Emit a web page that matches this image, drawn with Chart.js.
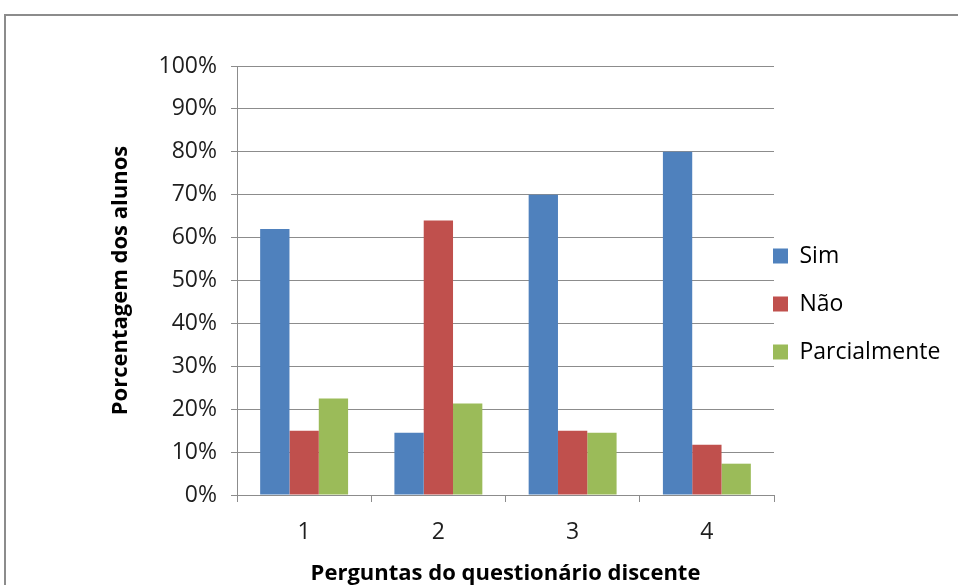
<!DOCTYPE html>
<html>
<head>
<meta charset="utf-8">
<script src="https://cdn.jsdelivr.net/npm/chart.js@4"></script>
<style>
    html, body { margin: 0; padding: 0; background: #fff; overflow: hidden; }
    /* moldura cinza do gráfico */
    #frame { position: absolute; left: 4px; top: 14px; width: 1000px; height: 700px;
             border-left: 2px solid #8c8c8c; border-top: 2px solid #8c8c8c; }
    #grafico { position: absolute; left: 0; top: 0; }
</style>
</head>
<body>
<div id="frame"></div>
<canvas id="grafico" width="958" height="585"></canvas>
<script>
// dados
const perguntas = ['1', '2', '3', '4'];
const sim = [62, 14.5, 70, 80];
const nao = [15, 64, 15, 11.7];
const parcialmente = [22.5, 21.3, 14.5, 7.3];
const yMin = 0, yMax = 100, yStep = 10;

const cinza = '#8c8c8c';
Chart.defaults.font.family = "'Open Sans', sans-serif";
Chart.defaults.font.size = 23;
Chart.defaults.color = '#1e1e1e';

// desloca a legenda para a posição do original (só o lado esquerdo, para não cortar o texto)
const ajusteLegenda = {
    id: 'ajusteLegenda',
    afterLayout(chart) {
        const lg = chart.legend;
        const dy = 304 - (lg.top + lg.bottom) / 2;
        lg.left = 748;
        lg.right = 958;
        lg.width = lg.right - lg.left;
        lg.top += dy; lg.bottom += dy;
    }
};

const data = {
    labels: perguntas,
    datasets: [
        { label: 'Sim', data: sim, backgroundColor: '#4f81bd' },
        { label: 'Não', data: nao, backgroundColor: '#c0504d' },
        { label: 'Parcialmente', data: parcialmente, backgroundColor: '#9bbb59' }
    ]
};

const config = {
    type: 'bar',
    data: data,
    options: {
        responsive: false,
        animation: false,
        devicePixelRatio: 1,
        layout: { padding: { left: 108, top: 66, right: 0, bottom: 0 } },
        datasets: { bar: { categoryPercentage: 0.655, barPercentage: 1, borderWidth: 0 } },
        plugins: {
            tooltip: { enabled: false },
            legend: {
                position: 'right',
                maxWidth: 184,
                labels: { boxWidth: 15, boxHeight: 15, padding: 25, color: '#000' }
            }
        },
        scales: {
            x: {
                afterFit(scale) { scale.height = 90; },
                grid: { drawOnChartArea: false, color: cinza, tickLength: 7, offset: true },
                border: { color: cinza },
                ticks: { padding: 17 },
                title: {
                    display: true, text: 'Perguntas do questionário discente',
                    font: { weight: 'bold', size: 22, lineHeight: 1.05 }, color: '#000',
                    padding: { top: 0, bottom: 0 }
                }
            },
            y: {
                min: yMin, max: yMax,
                afterFit(scale) { scale.width = 129; },
                grid: { color: cinza, tickLength: 6 },
                border: { color: cinza },
                ticks: { stepSize: yStep, padding: 14, callback: v => v + '%' },
                title: {
                    display: true, text: 'Porcentagem dos alunos',
                    font: { weight: 'bold', size: 22, lineHeight: 1.2 }, color: '#000',
                    padding: { top: 0, bottom: 0 }
                }
            }
        }
    },
    plugins: [ajusteLegenda]
};

new Chart(document.getElementById('grafico'), config);
</script>
</body>
</html>
